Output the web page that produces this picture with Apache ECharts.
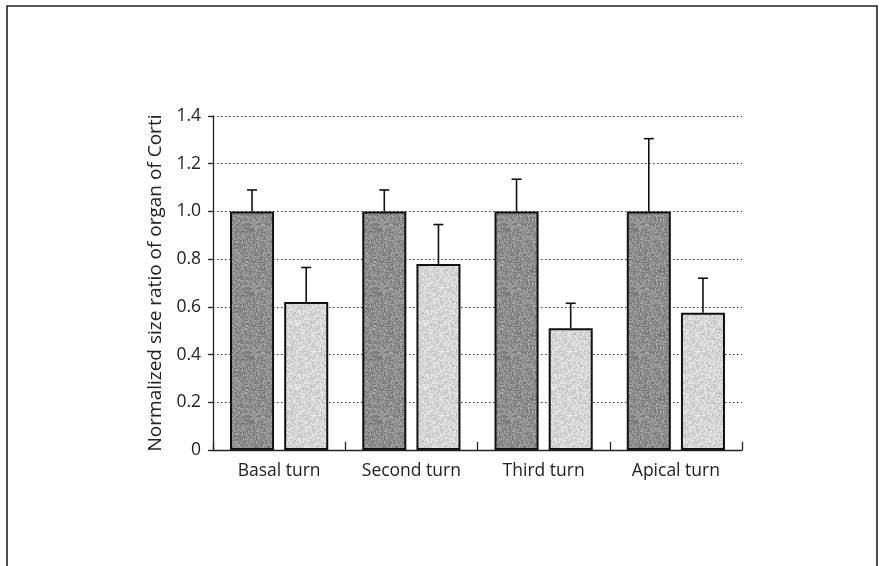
<!DOCTYPE html>
<html>
<head>
<meta charset="utf-8">
<script src="https://cdn.jsdelivr.net/npm/echarts@6/dist/echarts.min.js"></script>
<style>
  html, body { margin: 0; padding: 0; background: #fff; }
  #chart { width: 885px; height: 566px; }
</style>
</head>
<body>
<div id="chart"></div>
<script>
// Cochlear turns along the x axis
const categories = ['Basal turn', 'Second turn', 'Third turn', 'Apical turn'];
// Normalized organ of Corti size ratio (dark bars) and upper error
const controlMeans = [1.0, 1.0, 1.0, 1.0];
const controlErr = [0.09, 0.09, 0.135, 0.305];
// Comparison group (light bars) and upper error
const treatedMeans = [0.62, 0.78, 0.51, 0.575];
const treatedErr = [0.145, 0.165, 0.105, 0.145];

const chart = echarts.init(document.getElementById('chart'));
const FONT = '"Open Sans", "Noto Sans", sans-serif';
const BAR_W = 0.333;   // fraction of band
const BAR_GAP = 0.23;  // fraction of bar width

// Stippled fill, like a halftone-printed bar (deterministic speckle)
function stipple(base, spread) {
  const c = document.createElement('canvas');
  c.width = 64; c.height = 64;
  const ctx = c.getContext('2d');
  const img = ctx.createImageData(64, 64);
  let s = 12345;
  for (let i = 0; i < 64 * 64; i++) {
    s = (s * 1103515245 + 12345) & 0x7fffffff;
    const d = ((s >> 8) % (2 * spread + 1)) - spread;
    const v = Math.max(0, Math.min(255, base + d));
    img.data[i * 4] = v; img.data[i * 4 + 1] = v; img.data[i * 4 + 2] = v; img.data[i * 4 + 3] = 255;
  }
  ctx.putImageData(img, 0, 0);
  return { image: c, repeat: 'repeat' };
}

// Upward-only error bars drawn over each bar
function errorSeries(means, errs, side) {
  return {
    type: 'custom',
    z: 5,
    data: means.map((m, i) => [i, m, m + errs[i]]),
    renderItem: function (params, api) {
      const band = api.size([1, 0])[0];
      const bw = band * BAR_W;
      const off = side * bw * (1 + BAR_GAP) / 2;
      const base = api.coord([api.value(0), api.value(1)]);
      const top = api.coord([api.value(0), api.value(2)]);
      const x = base[0] + off;
      const cap = 5;
      const style = { stroke: '#111', lineWidth: 1.6 };
      return {
        type: 'group',
        children: [
          { type: 'line', shape: { x1: x, y1: base[1], x2: x, y2: top[1] }, style },
          { type: 'line', shape: { x1: x - cap, y1: top[1], x2: x + cap, y2: top[1] }, style }
        ]
      };
    }
  };
}

chart.setOption({
  backgroundColor: '#fff',
  animation: false,
  grid: { left: 213, right: 143, top: 116, bottom: 116, containLabel: false },
  xAxis: {
    type: 'category',
    data: categories,
    axisLine: { lineStyle: { color: '#222', width: 1.3 } },
    axisTick: { show: true, inside: true, length: 8, lineStyle: { color: '#222', width: 1.3 } },
    axisLabel: { color: '#222', fontFamily: FONT, fontSize: 17.5, margin: 12 },
    splitLine: { show: false }
  },
  yAxis: {
    type: 'value',
    min: 0, max: 1.4, interval: 0.2,
    name: 'Normalized size ratio of organ of Corti',
    nameLocation: 'middle',
    nameGap: 46,
    nameRotate: 90,
    nameTextStyle: { color: '#222', fontFamily: FONT, fontSize: 19 },
    axisLine: { show: true, lineStyle: { color: '#222', width: 1.3 } },
    axisTick: { show: true, length: 5, lineStyle: { color: '#222', width: 1.3 } },
    axisLabel: {
      color: '#222', fontFamily: FONT, fontSize: 17.5, margin: 12,
      formatter: v => (Math.abs(v) < 1e-9 ? '0' : v.toFixed(1))
    },
    splitLine: { show: true, lineStyle: { color: '#333', type: [1.5, 2.5], width: 1.2 } }
  },
  series: [
    {
      type: 'bar',
      data: controlMeans,
      barWidth: (BAR_W * 100) + '%',
      barGap: (BAR_GAP * 100) + '%',
      itemStyle: { color: stipple(142, 32), borderColor: '#111', borderWidth: 2 },
      z: 3
    },
    {
      type: 'bar',
      data: treatedMeans,
      barWidth: (BAR_W * 100) + '%',
      itemStyle: { color: stipple(214, 26), borderColor: '#111', borderWidth: 2 },
      z: 3
    },
    errorSeries(controlMeans, controlErr, -1),
    errorSeries(treatedMeans, treatedErr, 1)
  ],
  graphic: [
    {
      type: 'rect',
      shape: { x: 7, y: 6, width: 870, height: 600 },
      style: { fill: null, stroke: '#222', lineWidth: 1.6 },
      silent: true
    }
  ]
});
</script>
</body>
</html>
